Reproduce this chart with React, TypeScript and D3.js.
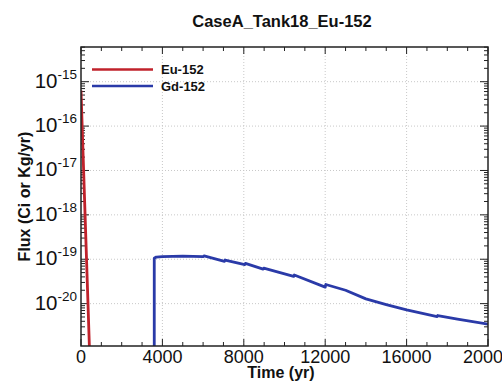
import React from "react";
import * as d3 from "d3";

const W = 502;
const H = 387;

const title = "CaseA_Tank18_Eu-152";
const xLabel = "Time (yr)";
const yLabel = "Flux (Ci or Kg/yr)";

const seriesNames = ["Eu-152", "Gd-152"];
const seriesColors = ["#c0222b", "#2a3aa8"];

const euTime = [0, 100, 200, 300, 400, 500];
const euFlux = [6.3e-16, 2.5e-17, 1.0e-18, 4.0e-20, 1.6e-21, 6.3e-23];

const gdTime = [3600, 3600, 3700, 4000, 5000, 6000, 6050, 7050, 7080, 8050, 8080, 8950, 8980, 10450, 10480, 12000, 12030, 13000, 14000, 15000, 16000, 17500, 17530, 18500, 20000];
const gdFlux = [1e-25, 1.05e-19, 1.12e-19, 1.15e-19, 1.17e-19, 1.14e-19, 1.19e-19, 9.0e-20, 9.6e-20, 7.6e-20, 8.1e-20, 6.0e-20, 6.3e-20, 4.1e-20, 4.4e-20, 2.35e-20, 2.7e-20, 2.0e-20, 1.28e-20, 9.5e-21, 7.2e-21, 5.1e-21, 5.4e-21, 4.5e-21, 3.45e-21];

const xTicks = [0, 4000, 8000, 12000, 16000, 20000];
const yTickExps = [-15, -16, -17, -18, -19, -20];

const font = "'Liberation Sans', Arial, Helvetica, sans-serif";

export default function App() {
  const left = 81, right = 488, top = 47, bottom = 346;
  const x = d3.scaleLinear().domain([0, 20000]).range([left, right]);
  const y = d3.scaleLog().domain([1.11e-21, 6.05e-15]).range([bottom, top]);

  const line = d3
    .line<[number, number]>()
    .x((d) => x(d[0]))
    .y((d) => y(d[1]));

  const euData = euTime.map((t, i) => [t, euFlux[i]] as [number, number]);
  const gdData = gdTime.map((t, i) => [t, gdFlux[i]] as [number, number]);

  const minorX = d3.range(0, 20001, 1000);
  const minorY: number[] = [];
  for (let e = -22; e <= -14; e++) {
    for (let m = 1; m < 10; m++) {
      const v = m * Math.pow(10, e);
      const yy = y(v);
      if (yy >= top && yy <= bottom) minorY.push(v);
    }
  }

  return (
    <svg
      width={W}
      height={H}
      style={{ position: "absolute", left: 0, top: 0, background: "#fff" }}
      fontFamily={font}
    >
      <defs>
        <clipPath id="plotclip">
          <rect x={left} y={top} width={right - left} height={bottom - top} />
        </clipPath>
      </defs>
      <rect x={0} y={0} width={W} height={H} fill="#fff" />
      <text x={282} y={26.5} textAnchor="middle" fontWeight="bold" fontSize={16.5} fill="#111">
        {title}
      </text>

      {/* grid */}
      {xTicks.slice(1, -1).map((t) => (
        <line key={"gx" + t} x1={x(t)} x2={x(t)} y1={top} y2={bottom} stroke="#c8c8c8" strokeWidth={1} strokeDasharray="1,2" />
      ))}
      {yTickExps.map((e) => (
        <line key={"gy" + e} x1={left} x2={right} y1={y(Math.pow(10, e))} y2={y(Math.pow(10, e))} stroke="#c8c8c8" strokeWidth={1} strokeDasharray="1,2" />
      ))}

      {/* ticks */}
      {minorX.map((t) => {
        const major = t % 4000 === 0;
        const len = major ? 7 : 4;
        return (
          <g key={"tx" + t}>
            <line x1={x(t)} x2={x(t)} y1={bottom} y2={bottom - len} stroke="#222" strokeWidth={1} />
            <line x1={x(t)} x2={x(t)} y1={top} y2={top + len} stroke="#222" strokeWidth={1} />
          </g>
        );
      })}
      {minorY.map((v, i) => {
        const isMajor = Math.abs(Math.log10(v) - Math.round(Math.log10(v))) < 1e-6;
        const len = isMajor ? 8 : 4;
        return (
          <g key={"ty" + i}>
            <line x1={left} x2={left + len} y1={y(v)} y2={y(v)} stroke="#222" strokeWidth={1} />
            <line x1={right} x2={right - len} y1={y(v)} y2={y(v)} stroke="#222" strokeWidth={1} />
          </g>
        );
      })}

      {/* series */}
      <g clipPath="url(#plotclip)">
        <path d={line(euData) || ""} fill="none" stroke={seriesColors[0]} strokeWidth={2.8} />
        <path d={line(gdData) || ""} fill="none" stroke={seriesColors[1]} strokeWidth={2.8} strokeLinejoin="round" />
      </g>

      {/* frame */}
      <rect x={left} y={top} width={right - left} height={bottom - top} fill="none" stroke="#222" strokeWidth={1.5} />

      {/* x tick labels */}
      {xTicks.map((t) => (
        <text key={"xl" + t} x={x(t)} y={362.5} textAnchor="middle" fontSize={18} fill="#111">
          {t}
        </text>
      ))}
      <text x={281} y={377.5} textAnchor="middle" fontWeight="bold" fontSize={16} fill="#111">
        {xLabel}
      </text>

      {/* y tick labels */}
      {yTickExps.map((e) => (
        <text key={"yl" + e} x={77} y={y(Math.pow(10, e)) + 6} textAnchor="end" fontSize={20.5} fill="#111">
          10
          <tspan dy={-9} fontSize={13.5}>
            {String(e)}
          </tspan>
        </text>
      ))}
      <text
        transform={`translate(30,${(top + bottom) / 2}) rotate(-90)`}
        textAnchor="middle"
        fontWeight="bold"
        fontSize={16}
        fill="#111"
      >
        {yLabel}
      </text>

      {/* legend */}
      {seriesNames.map((n, i) => (
        <g key={n}>
          <line x1={92} x2={153} y1={69.5 + i * 16.5} y2={69.5 + i * 16.5} stroke={seriesColors[i]} strokeWidth={2.6} />
          <text x={161} y={74 + i * 16.5} fontWeight="bold" fontSize={13} fill="#111">
            {n}
          </text>
        </g>
      ))}
    </svg>
  );
}
